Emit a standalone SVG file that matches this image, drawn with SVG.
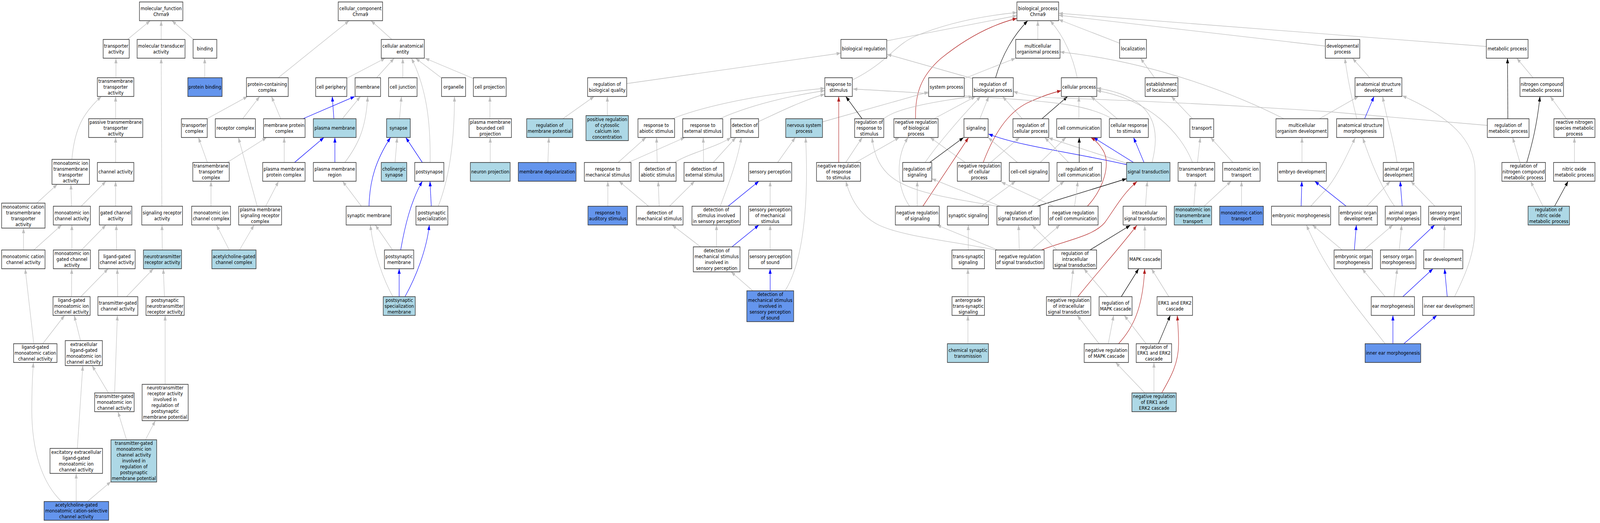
<svg xmlns="http://www.w3.org/2000/svg" width="4821" height="1339" viewBox="0 0 4821 1339">
<style>
.e{fill:none;stroke-width:1.3}
.g{stroke:#bebebe;marker-end:url(#mg)}
.b{stroke:#0000ff;marker-end:url(#mb)}
.k{stroke:#000000;marker-end:url(#mk)}
.r{stroke:#b22222;marker-end:url(#mr)}
rect.w,rect.lb,rect.db{stroke:#333333;stroke-width:1.6}
.w{fill:#ffffff}.lb{fill:#add8e6}.db{fill:#6495ed}
text{font-family:"DejaVu Sans",Verdana,sans-serif;font-size:13px;text-anchor:middle;fill:#000}
</style>
<defs>
<marker id="mg" viewBox="0 0 10 7" markerWidth="13" markerHeight="9.1" refX="10" refY="3.5" orient="auto" markerUnits="userSpaceOnUse"><path d="M0,0L10,3.5L0,7z" fill="#bebebe"/></marker>
<marker id="mb" viewBox="0 0 10 7" markerWidth="13" markerHeight="9.1" refX="10" refY="3.5" orient="auto" markerUnits="userSpaceOnUse"><path d="M0,0L10,3.5L0,7z" fill="#0000ff"/></marker>
<marker id="mk" viewBox="0 0 10 7" markerWidth="13" markerHeight="9.1" refX="10" refY="3.5" orient="auto" markerUnits="userSpaceOnUse"><path d="M0,0L10,3.5L0,7z" fill="#000000"/></marker>
<marker id="mr" viewBox="0 0 10 7" markerWidth="13" markerHeight="9.1" refX="10" refY="3.5" orient="auto" markerUnits="userSpaceOnUse"><path d="M0,0L10,3.5L0,7z" fill="#b22222"/></marker>
</defs>
<rect x="0" y="0" width="4821" height="1339" fill="#ffffff"/>
<g id="diagram" transform="scale(0.848,1)">
<g id="edges">
<path class="e g" d="M385,101L453.6,53"/>
<path class="e g" d="M486.6,101L486.6,53"/>
<path class="e g" d="M584,101L519,53"/>
<path class="e g" d="M350,199L350,149"/>
<path class="e g" d="M618,199L618,149"/>
<path class="e g" d="M349,304L349,247"/>
<path class="e g" d="M217,408C225,330 250,290 306,247"/>
<path class="e g" d="M349,416L349,352"/>
<path class="e g" d="M625,304L747.5,247"/>
<path class="e g" d="M732.5,304L784,247"/>
<path class="e g" d="M626,416L599,352"/>
<path class="e g" d="M686,416L805,352"/>
<path class="e g" d="M111,520L173,472"/>
<path class="e g" d="M216,528L214,472"/>
<path class="e g" d="M245,528L320,464"/>
<path class="e g" d="M349,528L349,464"/>
<path class="e g" d="M488.7,528L486.6,149"/>
<path class="e g" d="M637,528L637,464"/>
<path class="e g" d="M776.5,528L719.6,352"/>
<path class="e g" d="M802,528L841,464"/>
<path class="e g" d="M71,640L71,584"/>
<path class="e g" d="M217,640L217,576"/>
<path class="e g" d="M102,640L186,576"/>
<path class="e g" d="M246,640L320,576"/>
<path class="e g" d="M352,640L351,576"/>
<path class="e g" d="M490,640L489,576"/>
<path class="e g" d="M692,640L653.5,576"/>
<path class="e g" d="M723,640L767,576"/>
<path class="e g" d="M102,880L76,688"/>
<path class="e g" d="M216,759.5L216.5,688"/>
<path class="e g" d="M244,759.5L326.5,688"/>
<path class="e g" d="M355.4,759.5L354,688"/>
<path class="e g" d="M382,759.5L463,688"/>
<path class="e g" d="M496.5,759.5L493,688"/>
<path class="e g" d="M129,880L195,807.5"/>
<path class="e g" d="M243,872L224,807.5"/>
<path class="e g" d="M327.5,1006L278,936"/>
<path class="e g" d="M346,1006L354.4,807.5"/>
<path class="e g" d="M498.5,984L498.5,807.5"/>
<path class="e g" d="M233.5,1148L250,936"/>
<path class="e g" d="M382,1126L356,1054"/>
<path class="e g" d="M439,1126L469,1077"/>
<path class="e g" d="M186,1284C125,1235 96,1150 96,1050C96,1000 98,960 101,928"/>
<path class="e g" d="M230,1284L230,1212"/>
<path class="e g" d="M264,1284L335,1233"/>
<path class="e g" d="M840,199L1054,53"/>
<path class="e g" d="M1183,101L1120,53"/>
<path class="e g" d="M1048,200L1163,149"/>
<path class="e g" d="M1137,199L1190,149"/>
<path class="e g" d="M1216,199L1216,149"/>
<path class="e g" d="M1298.5,416C1300,320 1290,230 1242,149"/>
<path class="e g" d="M1332,199L1254.6,149"/>
<path class="e g" d="M1429,201L1283,149"/>
<path class="e g" d="M847.5,304L819.6,247"/>
<path class="e b" d="M914.7,304L1071,247"/>
<path class="e b" d="M1008,304L1003,247"/>
<path class="e g" d="M1033.5,304L1088,247"/>
<path class="e g" d="M1041,416C1080,372 1105,330 1110,247"/>
<path class="e g" d="M1206,304L1212,247"/>
<path class="e g" d="M1323,528C1350,470 1372,380 1372,247"/>
<path class="e g" d="M1479,304L1479,247"/>
<path class="e g" d="M858,416L858,352"/>
<path class="e b" d="M889,416L978,352"/>
<path class="e b" d="M1011,416L1011,352"/>
<path class="e g" d="M1192.6,416L1199,352"/>
<path class="e b" d="M1275,416L1225,352"/>
<path class="e g" d="M1480,416L1480,352"/>
<path class="e g" d="M1091,528L1034,464"/>
<path class="e b" d="M1114,528C1116,460 1135,410 1179,352"/>
<path class="e b" d="M1302,528L1298,464"/>
<path class="e g" d="M1185,640L1133,576"/>
<path class="e b" d="M1209.6,640C1222,580 1240,515 1275,464"/>
<path class="e g" d="M1186,759.5C1160,720 1128,650 1118,576"/>
<path class="e b" d="M1205,759.5L1205,688"/>
<path class="e b" d="M1222.6,759.5C1255,710 1288,640 1296,576"/>
<path class="e g" d="M2677,104.5L3070,40"/>
<path class="e g" d="M2573,205C2680,160 2700,115 2765,92C2850,62 2950,42 3070,32"/>
<path class="e g" d="M3133,101L3133,53"/>
<path class="e k" d="M3005.5,199C3025,140 3060,90 3102.6,53"/>
<path class="e r" d="M2764,304C2762,240 2780,195 2840,150C2920,95 3000,62 3070,47"/>
<path class="e g" d="M3252,199C3240,150 3215,95 3170,53"/>
<path class="e g" d="M3380,110.6L3196,50"/>
<path class="e g" d="M4001,118L3196,39"/>
<path class="e g" d="M4487,119L3196,34"/>
<path class="e g" d="M2936,201L2678,139"/>
<path class="e g" d="M1892,214L2538.5,136"/>
<path class="e g" d="M2911,201L3066,149"/>
<path class="e g" d="M3876,304C3750,250 3500,160 3200,133"/>
<path class="e g" d="M3485.7,199L3443,149"/>
<path class="e g" d="M4135,199L4083,149"/>
<path class="e g" d="M4096,304C4080,250 4068,200 4060,149"/>
<path class="e g" d="M4628,199L4579,149"/>
<path class="e k" d="M4552,304L4551,149"/>
<path class="e g" d="M1699,304L1793.7,247"/>
<path class="e g" d="M1833.5,296L1833.5,247"/>
<path class="e g" d="M2029,304C2100,280 2250,245 2490,226"/>
<path class="e g" d="M2172,304C2250,275 2350,250 2490,232"/>
<path class="e g" d="M2290.7,311C2350,288 2420,258 2490,241"/>
<path class="e g" d="M2483,312L2803.5,235.5"/>
<path class="e k" d="M2602.5,304L2553.4,247"/>
<path class="e r" d="M2532,416L2532,247"/>
<path class="e g" d="M2668,304C2700,280 2800,262 2937,247"/>
<path class="e g" d="M2819.5,304L2945,247"/>
<path class="e g" d="M2958,304L2985,247"/>
<path class="e g" d="M3086,304L3026.6,247"/>
<path class="e k" d="M3145.5,304L3223,247"/>
<path class="e r" d="M2968,416C3000,345 3040,290 3100,264C3140,248 3175,238 3204,232"/>
<path class="e g" d="M2914,416L2808,352"/>
<path class="e g" d="M2990.5,416L3078,352"/>
<path class="e k" d="M2806.6,416L2909,352"/>
<path class="e g" d="M2792.6,416C2830,370 2900,300 2960.5,247"/>
<path class="e g" d="M2553,416L2603,352"/>
<path class="e g" d="M2583,416L2715,352"/>
<path class="e b" d="M3401,421.5C3250,392 3080,375 2984,343"/>
<path class="e g" d="M3071.6,416L2983,352"/>
<path class="e g" d="M3140,416L3218,352"/>
<path class="e g" d="M3226,416L3154,352"/>
<path class="e g" d="M3401,418L3165,353"/>
<path class="e g" d="M3257,304L3257,247"/>
<path class="e g" d="M3373,304L3293,247"/>
<path class="e g" d="M3357.6,304C3290,272 3200,262 3060,254C2900,245 2700,233 2575,228"/>
<path class="e g" d="M4490,321L4011,286C3600,262 3300,254 3200,251C3130,249 3090,243 3059,234"/>
<path class="e g" d="M3600,304L3536,247"/>
<path class="e g" d="M3600,416C3565,340 3470,255 3311,232"/>
<path class="e g" d="M3478,416C3500,340 3500,250 3311,225.5"/>
<path class="e k" d="M3258,416L3258,352"/>
<path class="e b" d="M3422,416L3301,352"/>
<path class="e b" d="M3453.6,416L3422,352"/>
<path class="e r" d="M3282.6,528C3330,485 3355,420 3330,385C3318,368 3305,358 3293,352"/>
<path class="e g" d="M3615,416L3623.6,352"/>
<path class="e g" d="M3722,416L3654.6,352"/>
<path class="e g" d="M3930.5,416L3930.5,352"/>
<path class="e g" d="M3983,304L4101,247"/>
<path class="e g" d="M3458,528L3463.5,464"/>
<path class="e r" d="M3143.5,640C3220,615 3300,605 3335,570C3365,535 3390,495 3432.5,465"/>
<path class="e k" d="M3131,528L3401,457.5"/>
<path class="e g" d="M3115.5,528L3213,464"/>
<path class="e r" d="M3254,759.5C3310,700 3370,645 3432,577"/>
<path class="e k" d="M3290.4,640L3412,577"/>
<path class="e g" d="M3190.5,640L3115.5,576"/>
<path class="e g" d="M3456,640L3456,577"/>
<path class="e g" d="M3604,528L3609.7,464"/>
<path class="e g" d="M3635,528L3716.6,464"/>
<path class="e g" d="M3748,528L3748,464"/>
<path class="e b" d="M3928,528L3930,464"/>
<path class="e g" d="M3957,528C3980,505 4000,490 4011,477C4040,445 4065,400 4091,353"/>
<path class="e b" d="M4064,528L3969,464"/>
<path class="e g" d="M4126,528L4197,464"/>
<path class="e b" d="M4233,528L4227,464"/>
<path class="e g" d="M4332,528L4259,464"/>
<path class="e g" d="M4210,528C4170,480 4140,420 4114,353"/>
<path class="e b" d="M4119.5,304L4148,247"/>
<path class="e g" d="M4217.6,416C4205,350 4185,300 4174,247"/>
<path class="e g" d="M4391,759.5C4420,710 4453,650 4453,580L4453,440C4453,360 4380,300 4233,245"/>
<path class="e g" d="M4729,304L4680,247"/>
<path class="e g" d="M4588.6,416L4566.4,352"/>
<path class="e k" d="M4609,416C4625,370 4640,320 4649,247"/>
<path class="e g" d="M4753,416L4753,352"/>
<path class="e g" d="M4658,528L4620.6,464"/>
<path class="e k" d="M4693,528L4734,464"/>
<path class="e b" d="M4088.5,640L4094.7,576"/>
<path class="e g" d="M4117,640L4205,576"/>
<path class="e g" d="M4224,640L4231.6,576"/>
<path class="e b" d="M4251,640L4331,576"/>
<path class="e g" d="M4359,640L4361,576"/>
<path class="e g" d="M4052,640L3962,576"/>
<path class="e g" d="M4181.5,880C4080,770 4000,690 3944,576"/>
<path class="e g" d="M4181.5,759.5L4112,688"/>
<path class="e g" d="M4208,759.5L4218,688"/>
<path class="e b" d="M4235,759.5L4326,688"/>
<path class="e b" d="M4369,759.5L4361,688"/>
<path class="e b" d="M4205,880L4205,807.5"/>
<path class="e b" d="M4238,880L4337.5,807.5"/>
<path class="e g" d="M1654,416L1657,352"/>
<path class="e g" d="M1866,416L1950,352"/>
<path class="e g" d="M1897,416L2067.5,352"/>
<path class="e g" d="M1984,416L1982,352"/>
<path class="e g" d="M2036.5,416C2080,392 2160,378 2207,352"/>
<path class="e g" d="M2124,416L2123,352"/>
<path class="e g" d="M2153,416L2221.5,352"/>
<path class="e g" d="M2347.5,416L2401,352"/>
<path class="e g" d="M1835,528L1835,464"/>
<path class="e g" d="M1958,528L1868.6,464"/>
<path class="e g" d="M1990,528L1987,464"/>
<path class="e g" d="M2021,528L2097,464"/>
<path class="e g" d="M2174.5,528C2190,490 2225,420 2238,352"/>
<path class="e b" d="M2198,528L2291,464"/>
<path class="e g" d="M2325,528L2325,464"/>
<path class="e g" d="M2115,632L2029,576"/>
<path class="e g" d="M2163,632L2163,576"/>
<path class="e b" d="M2209.6,632L2291,576"/>
<path class="e g" d="M2325,640L2325,576"/>
<path class="e g" d="M2272.6,744.5L2207,696"/>
<path class="e b" d="M2325,744.5L2325,688"/>
<path class="e g" d="M2370,744.5C2425,670 2442,520 2432,352"/>
<path class="e g" d="M2769,528L2769,464"/>
<path class="e r" d="M2786,528L2924,352"/>
<path class="e g" d="M2746,528C2710,485 2700,410 2741,352"/>
<path class="e g" d="M2963,528L3066,464"/>
<path class="e g" d="M3020,528L2813,457.6"/>
<path class="e g" d="M3009.6,528C2880,508 2740,495 2680,445C2650,420 2638,390 2632.5,352"/>
<path class="e g" d="M3244,528L3254,464"/>
<path class="e g" d="M3180,528L3022.5,466"/>
<path class="e g" d="M2923,640L2923,576"/>
<path class="e g" d="M3077,640L3075,576"/>
<path class="e g" d="M3012,640L2828,576"/>
<path class="e g" d="M3113,640L3200,576"/>
<path class="e g" d="M3005.5,640C2880,618 2720,605 2650,575C2595,550 2568,510 2553.4,464"/>
<path class="e g" d="M2922,759.5L2922,688"/>
<path class="e g" d="M2922,880L2922,807.5"/>
<path class="e g" d="M3231,759.5L3240,688"/>
<path class="e g" d="M3343.6,759.5L3272,688"/>
<path class="e k" d="M3385,759.5L3437.6,688"/>
<path class="e r" d="M3376.7,880C3420,840 3450,790 3455.7,688"/>
<path class="e g" d="M3528.6,759.5L3476,688"/>
<path class="e g" d="M3318,880L3252,807.5"/>
<path class="e g" d="M3345.7,880L3362,807.5"/>
<path class="e g" d="M3460,880L3394,807.5"/>
<path class="e k" d="M3497,880L3533,807.5"/>
<path class="e g" d="M3456,1006L3368,928"/>
<path class="e g" d="M3483.6,1006L3483.6,928"/>
<path class="e r" d="M3507,1006C3535,965 3558,930 3558,880C3558,850 3556,830 3554,807.5"/>
</g>
<g id="n1"><rect class="w" x="421" y="5" width="131" height="48"/><text x="486.5" y="26"><tspan x="486.5">molecular_function</tspan><tspan x="486.5" dy="15">Chrna9</tspan></text></g>
<g id="n2"><rect class="w" x="311.5" y="101" width="78.5" height="48"/><text x="350.7" y="122"><tspan x="350.7">transporter</tspan><tspan x="350.7" dy="15">activity</tspan></text></g>
<g id="n3"><rect class="w" x="414" y="101" width="144.5" height="48"/><text x="486.2" y="122"><tspan x="486.2">molecular transducer</tspan><tspan x="486.2" dy="15">activity</tspan></text></g>
<g id="n4"><rect class="w" x="583" y="101" width="71.5" height="48"/><text x="618.7" y="129.5">binding</text></g>
<g id="n5"><rect class="w" x="294" y="199" width="110" height="48"/><text x="349" y="212.5"><tspan x="349">transmembrane</tspan><tspan x="349" dy="15">transporter</tspan><tspan x="349" dy="15">activity</tspan></text></g>
<g id="n6"><rect class="db" x="567" y="199" width="103.5" height="48"/><text x="618.7" y="227.5">protein binding</text></g>
<g id="n7"><rect class="w" x="267.6" y="304" width="163.4" height="48"/><text x="349.3" y="317.5"><tspan x="349.3">passive transmembrane</tspan><tspan x="349.3" dy="15">transporter</tspan><tspan x="349.3" dy="15">activity</tspan></text></g>
<g id="n8"><rect class="w" x="157" y="408" width="113" height="64"/><text x="213.5" y="422"><tspan x="213.5">monoatomic ion</tspan><tspan x="213.5" dy="15">transmembrane</tspan><tspan x="213.5" dy="15">transporter</tspan><tspan x="213.5" dy="15">activity</tspan></text></g>
<g id="n9"><rect class="w" x="294" y="416" width="110" height="48"/><text x="349" y="444.5">channel activity</text></g>
<g id="n10"><rect class="w" x="5" y="520" width="131" height="64"/><text x="70.5" y="534"><tspan x="70.5">monoatomic cation</tspan><tspan x="70.5" dy="15">transmembrane</tspan><tspan x="70.5" dy="15">transporter</tspan><tspan x="70.5" dy="15">activity</tspan></text></g>
<g id="n11"><rect class="w" x="161" y="528" width="112" height="48"/><text x="217" y="549"><tspan x="217">monoatomic ion</tspan><tspan x="217" dy="15">channel activity</tspan></text></g>
<g id="n12"><rect class="w" x="300" y="528" width="98" height="48"/><text x="349" y="549"><tspan x="349">gated channel</tspan><tspan x="349" dy="15">activity</tspan></text></g>
<g id="n13"><rect class="w" x="428" y="528" width="123" height="48"/><text x="489.5" y="549"><tspan x="489.5">signaling receptor</tspan><tspan x="489.5" dy="15">activity</tspan></text></g>
<g id="n14"><rect class="w" x="5" y="640" width="131" height="48"/><text x="70.5" y="661"><tspan x="70.5">monoatomic cation</tspan><tspan x="70.5" dy="15">channel activity</tspan></text></g>
<g id="n15"><rect class="w" x="161" y="640" width="112" height="48"/><text x="217" y="653.5"><tspan x="217">monoatomic ion</tspan><tspan x="217" dy="15">gated channel</tspan><tspan x="217" dy="15">activity</tspan></text></g>
<g id="n16"><rect class="w" x="298" y="640" width="110" height="48"/><text x="353" y="661"><tspan x="353">ligand-gated</tspan><tspan x="353" dy="15">channel activity</tspan></text></g>
<g id="n17"><rect class="lb" x="433" y="640" width="115" height="48"/><text x="490.5" y="661"><tspan x="490.5">neurotransmitter</tspan><tspan x="490.5" dy="15">receptor activity</tspan></text></g>
<g id="n18"><rect class="w" x="160" y="759.5" width="112" height="48"/><text x="216" y="773"><tspan x="216">ligand-gated</tspan><tspan x="216" dy="15">monoatomic ion</tspan><tspan x="216" dy="15">channel activity</tspan></text></g>
<g id="n19"><rect class="w" x="295.5" y="759.5" width="120.5" height="48"/><text x="355.7" y="780.5"><tspan x="355.7">transmitter-gated</tspan><tspan x="355.7" dy="15">channel activity</tspan></text></g>
<g id="n20"><rect class="w" x="440.7" y="759.5" width="115.3" height="48"/><text x="498.3" y="773"><tspan x="498.3">postsynaptic</tspan><tspan x="498.3" dy="15">neurotransmitter</tspan><tspan x="498.3" dy="15">receptor activity</tspan></text></g>
<g id="n21"><rect class="w" x="41" y="880" width="131" height="48"/><text x="106.5" y="893.5"><tspan x="106.5">ligand-gated</tspan><tspan x="106.5" dy="15">monoatomic cation</tspan><tspan x="106.5" dy="15">channel activity</tspan></text></g>
<g id="n22"><rect class="w" x="197" y="872" width="112" height="64"/><text x="253" y="886"><tspan x="253">extracellular</tspan><tspan x="253" dy="15">ligand-gated</tspan><tspan x="253" dy="15">monoatomic ion</tspan><tspan x="253" dy="15">channel activity</tspan></text></g>
<g id="n23"><rect class="w" x="285.7" y="1006" width="119.3" height="48"/><text x="345.3" y="1019.5"><tspan x="345.3">transmitter-gated</tspan><tspan x="345.3" dy="15">monoatomic ion</tspan><tspan x="345.3" dy="15">channel activity</tspan></text></g>
<g id="n24"><rect class="w" x="429" y="984" width="139" height="93"/><text x="498.5" y="997.5"><tspan x="498.5">neurotransmitter</tspan><tspan x="498.5" dy="15">receptor activity</tspan><tspan x="498.5" dy="15">involved in</tspan><tspan x="498.5" dy="15">regulation of</tspan><tspan x="498.5" dy="15">postsynaptic</tspan><tspan x="498.5" dy="15">membrane potential</tspan></text></g>
<g id="n25"><rect class="w" x="151" y="1148" width="158.5" height="64"/><text x="230.2" y="1162"><tspan x="230.2">excitatory extracellular</tspan><tspan x="230.2" dy="15">ligand-gated</tspan><tspan x="230.2" dy="15">monoatomic ion</tspan><tspan x="230.2" dy="15">channel activity</tspan></text></g>
<g id="n26"><rect class="lb" x="335" y="1126" width="138" height="108"/><text x="404" y="1139.5"><tspan x="404">transmitter-gated</tspan><tspan x="404" dy="15">monoatomic ion</tspan><tspan x="404" dy="15">channel activity</tspan><tspan x="404" dy="15">involved in</tspan><tspan x="404" dy="15">regulation of</tspan><tspan x="404" dy="15">postsynaptic</tspan><tspan x="404" dy="15">membrane potential</tspan></text></g>
<g id="n27"><rect class="db" x="133" y="1284" width="195" height="48"/><text x="230.5" y="1297.5"><tspan x="230.5">acetylcholine-gated</tspan><tspan x="230.5" dy="15">monoatomic cation-selective</tspan><tspan x="230.5" dy="15">channel activity</tspan></text></g>
<g id="c1"><rect class="w" x="1021" y="5" width="134" height="48"/><text x="1088" y="26"><tspan x="1088">cellular_component</tspan><tspan x="1088" dy="15">Chrna9</tspan></text></g>
<g id="c2"><rect class="w" x="1151" y="101" width="130" height="48"/><text x="1216" y="122"><tspan x="1216">cellular anatomical</tspan><tspan x="1216" dy="15">entity</tspan></text></g>
<g id="c3"><rect class="w" x="744" y="199" width="126" height="48"/><text x="807" y="220"><tspan x="807">protein-containing</tspan><tspan x="807" dy="15">complex</tspan></text></g>
<g id="c4"><rect class="w" x="953" y="199" width="94" height="48"/><text x="1000" y="227.5">cell periphery</text></g>
<g id="c5"><rect class="w" x="1072" y="199" width="77" height="48"/><text x="1110.5" y="227.5">membrane</text></g>
<g id="c6"><rect class="w" x="1173" y="199" width="86" height="48"/><text x="1216" y="227.5">cell junction</text></g>
<g id="c7"><rect class="w" x="1333" y="199" width="72.5" height="48"/><text x="1369.2" y="227.5">organelle</text></g>
<g id="c8"><rect class="w" x="1429" y="199" width="99" height="48"/><text x="1478.5" y="227.5">cell projection</text></g>
<g id="c9"><rect class="w" x="547.6" y="304" width="78" height="48"/><text x="586.6" y="325"><tspan x="586.6">transporter</tspan><tspan x="586.6" dy="15">complex</tspan></text></g>
<g id="c10"><rect class="w" x="650" y="304" width="121" height="48"/><text x="710.5" y="332.5">receptor complex</text></g>
<g id="c11"><rect class="w" x="795.5" y="304" width="125.5" height="48"/><text x="858.2" y="325"><tspan x="858.2">membrane protein</tspan><tspan x="858.2" dy="15">complex</tspan></text></g>
<g id="c12"><rect class="lb" x="946" y="304" width="129" height="48"/><text x="1010.5" y="332.5">plasma membrane</text></g>
<g id="c13"><rect class="lb" x="1167" y="304" width="71.6" height="48"/><text x="1202.8" y="332.5">synapse</text></g>
<g id="c14"><rect class="w" x="1416" y="304" width="128" height="48"/><text x="1480" y="317.5"><tspan x="1480">plasma membrane</tspan><tspan x="1480" dy="15">bounded cell</tspan><tspan x="1480" dy="15">projection</tspan></text></g>
<g id="c15"><rect class="w" x="582" y="416" width="110" height="48"/><text x="637" y="429.5"><tspan x="637">transmembrane</tspan><tspan x="637" dy="15">transporter</tspan><tspan x="637" dy="15">complex</tspan></text></g>
<g id="c16"><rect class="w" x="793" y="416" width="128" height="48"/><text x="857" y="437"><tspan x="857">plasma membrane</tspan><tspan x="857" dy="15">protein complex</tspan></text></g>
<g id="c17"><rect class="w" x="946" y="416" width="129" height="48"/><text x="1010.5" y="437"><tspan x="1010.5">plasma membrane</tspan><tspan x="1010.5" dy="15">region</tspan></text></g>
<g id="c18"><rect class="lb" x="1151" y="416" width="77" height="48"/><text x="1189.5" y="437"><tspan x="1189.5">cholinergic</tspan><tspan x="1189.5" dy="15">synapse</tspan></text></g>
<g id="c19"><rect class="w" x="1252" y="416" width="88" height="48"/><text x="1296" y="444.5">postsynapse</text></g>
<g id="c20"><rect class="lb" x="1420" y="416" width="120" height="48"/><text x="1480" y="444.5">neuron projection</text></g>
<g id="c21"><rect class="w" x="578.6" y="528" width="117.4" height="48"/><text x="637.3" y="549"><tspan x="637.3">monoatomic ion</tspan><tspan x="637.3" dy="15">channel complex</tspan></text></g>
<g id="c22"><rect class="w" x="720.6" y="528" width="129.4" height="48"/><text x="785.3" y="541.5"><tspan x="785.3">plasma membrane</tspan><tspan x="785.3" dy="15">signaling receptor</tspan><tspan x="785.3" dy="15">complex</tspan></text></g>
<g id="c23"><rect class="w" x="1045" y="528" width="136" height="48"/><text x="1113" y="556.5">synaptic membrane</text></g>
<g id="c24"><rect class="w" x="1255.6" y="528" width="96.4" height="48"/><text x="1303.8" y="549"><tspan x="1303.8">postsynaptic</tspan><tspan x="1303.8" dy="15">specialization</tspan></text></g>
<g id="c25"><rect class="lb" x="639.6" y="640" width="133.4" height="48"/><text x="706.3" y="661"><tspan x="706.3">acetylcholine-gated</tspan><tspan x="706.3" dy="15">channel complex</tspan></text></g>
<g id="c26"><rect class="w" x="1160.6" y="640" width="88.4" height="48"/><text x="1204.8" y="661"><tspan x="1204.8">postsynaptic</tspan><tspan x="1204.8" dy="15">membrane</tspan></text></g>
<g id="c27"><rect class="lb" x="1157" y="759.5" width="96.6" height="48"/><text x="1205.3" y="773"><tspan x="1205.3">postsynaptic</tspan><tspan x="1205.3" dy="15">specialization</tspan><tspan x="1205.3" dy="15">membrane</tspan></text></g>
<g id="b1"><rect class="w" x="3070" y="5" width="126" height="48"/><text x="3133" y="26"><tspan x="3133">biological_process</tspan><tspan x="3133" dy="15">Chrna9</tspan></text></g>
<g id="b2"><rect class="w" x="2538.5" y="101" width="138.5" height="48"/><text x="2607.7" y="129.5">biological regulation</text></g>
<g id="b3"><rect class="w" x="3066.4" y="101" width="133.6" height="48"/><text x="3133.2" y="122"><tspan x="3133.2">multicellular</tspan><tspan x="3133.2" dy="15">organismal process</tspan></text></g>
<g id="b4"><rect class="w" x="3380" y="101" width="81" height="48"/><text x="3420.5" y="129.5">localization</text></g>
<g id="b5"><rect class="w" x="4001" y="101" width="104" height="48"/><text x="4053" y="122"><tspan x="4053">developmental</tspan><tspan x="4053" dy="15">process</tspan></text></g>
<g id="b6"><rect class="w" x="4487" y="101" width="126" height="48"/><text x="4550" y="129.5">metabolic process</text></g>
<g id="b7"><rect class="w" x="1774" y="199" width="118" height="48"/><text x="1833" y="220"><tspan x="1833">regulation of</tspan><tspan x="1833" dy="15">biological quality</tspan></text></g>
<g id="b8"><rect class="w" x="2490" y="199" width="83" height="48"/><text x="2531.5" y="220"><tspan x="2531.5">response to</tspan><tspan x="2531.5" dy="15">stimulus</tspan></text></g>
<g id="b9"><rect class="w" x="2803.5" y="199" width="107.5" height="48"/><text x="2857.2" y="227.5">system process</text></g>
<g id="b10"><rect class="w" x="2936" y="199" width="123" height="48"/><text x="2997.5" y="220"><tspan x="2997.5">regulation of</tspan><tspan x="2997.5" dy="15">biological process</tspan></text></g>
<g id="b11"><rect class="w" x="3204" y="199" width="107" height="48"/><text x="3257.5" y="227.5">cellular process</text></g>
<g id="b12"><rect class="w" x="3457" y="199" width="99" height="48"/><text x="3506.5" y="220"><tspan x="3506.5">establishment</tspan><tspan x="3506.5" dy="15">of localization</tspan></text></g>
<g id="b13"><rect class="w" x="4090.6" y="199" width="141.4" height="48"/><text x="4161.3" y="220"><tspan x="4161.3">anatomical structure</tspan><tspan x="4161.3" dy="15">development</tspan></text></g>
<g id="b14"><rect class="w" x="4588.6" y="199" width="131.4" height="48"/><text x="4654.3" y="220"><tspan x="4654.3">nitrogen compound</tspan><tspan x="4654.3" dy="15">metabolic process</tspan></text></g>
<g id="b15"><rect class="lb" x="1590" y="304" width="139" height="48"/><text x="1659.5" y="325"><tspan x="1659.5">regulation of</tspan><tspan x="1659.5" dy="15">membrane potential</tspan></text></g>
<g id="b16"><rect class="lb" x="1769" y="296" width="128" height="64"/><text x="1833" y="310"><tspan x="1833">positive regulation</tspan><tspan x="1833" dy="15">of cytosolic</tspan><tspan x="1833" dy="15">calcium ion</tspan><tspan x="1833" dy="15">concentration</tspan></text></g>
<g id="b17"><rect class="w" x="1926" y="304" width="110.5" height="48"/><text x="1981.2" y="325"><tspan x="1981.2">response to</tspan><tspan x="1981.2" dy="15">abiotic stimulus</tspan></text></g>
<g id="b18"><rect class="w" x="2061" y="304" width="121" height="48"/><text x="2121.5" y="325"><tspan x="2121.5">response to</tspan><tspan x="2121.5" dy="15">external stimulus</tspan></text></g>
<g id="b19"><rect class="w" x="2206" y="304" width="84" height="48"/><text x="2248" y="325"><tspan x="2248">detection of</tspan><tspan x="2248" dy="15">stimulus</tspan></text></g>
<g id="b20"><rect class="lb" x="2372" y="304" width="111" height="48"/><text x="2427.5" y="325"><tspan x="2427.5">nervous system</tspan><tspan x="2427.5" dy="15">process</tspan></text></g>
<g id="b21"><rect class="w" x="2580" y="304" width="88" height="48"/><text x="2624" y="317.5"><tspan x="2624">regulation of</tspan><tspan x="2624" dy="15">response to</tspan><tspan x="2624" dy="15">stimulus</tspan></text></g>
<g id="b22"><rect class="w" x="2698.6" y="304" width="133.4" height="48"/><text x="2765.3" y="317.5"><tspan x="2765.3">negative regulation</tspan><tspan x="2765.3" dy="15">of biological</tspan><tspan x="2765.3" dy="15">process</tspan></text></g>
<g id="b23"><rect class="w" x="2910" y="304" width="73" height="48"/><text x="2946.5" y="332.5">signaling</text></g>
<g id="b24"><rect class="w" x="3058" y="304" width="108" height="48"/><text x="3112" y="325"><tspan x="3112">regulation of</tspan><tspan x="3112" dy="15">cellular process</tspan></text></g>
<g id="b25"><rect class="w" x="3190" y="304" width="134" height="48"/><text x="3257" y="332.5">cell communication</text></g>
<g id="b26"><rect class="w" x="3349" y="304" width="117.6" height="48"/><text x="3407.8" y="325"><tspan x="3407.8">cellular response</tspan><tspan x="3407.8" dy="15">to stimulus</tspan></text></g>
<g id="b27"><rect class="w" x="3592" y="304" width="72" height="48"/><text x="3628" y="332.5">transport</text></g>
<g id="b28"><rect class="w" x="3852" y="304" width="156.5" height="48"/><text x="3930.2" y="325"><tspan x="3930.2">multicellular</tspan><tspan x="3930.2" dy="15">organism development</tspan></text></g>
<g id="b29"><rect class="w" x="4035" y="304" width="142" height="48"/><text x="4106" y="325"><tspan x="4106">anatomical structure</tspan><tspan x="4106" dy="15">morphogenesis</tspan></text></g>
<g id="b30"><rect class="w" x="4490" y="304" width="126" height="48"/><text x="4553" y="325"><tspan x="4553">regulation of</tspan><tspan x="4553" dy="15">metabolic process</tspan></text></g>
<g id="b31"><rect class="w" x="4691" y="304" width="124" height="48"/><text x="4753" y="317.5"><tspan x="4753">reactive nitrogen</tspan><tspan x="4753" dy="15">species metabolic</tspan><tspan x="4753" dy="15">process</tspan></text></g>
<g id="b32"><rect class="db" x="1564.6" y="416" width="174.4" height="48"/><text x="1651.8" y="444.5">membrane depolarization</text></g>
<g id="b33"><rect class="w" x="1764" y="416" width="141" height="48"/><text x="1834.5" y="437"><tspan x="1834.5">response to</tspan><tspan x="1834.5" dy="15">mechanical stimulus</tspan></text></g>
<g id="b34"><rect class="w" x="1930" y="416" width="111" height="48"/><text x="1985.5" y="437"><tspan x="1985.5">detection of</tspan><tspan x="1985.5" dy="15">abiotic stimulus</tspan></text></g>
<g id="b35"><rect class="w" x="2065" y="416" width="120" height="48"/><text x="2125" y="437"><tspan x="2125">detection of</tspan><tspan x="2125" dy="15">external stimulus</tspan></text></g>
<g id="b36"><rect class="w" x="2260" y="416" width="130" height="48"/><text x="2325" y="444.5">sensory perception</text></g>
<g id="b37"><rect class="w" x="2465" y="416" width="133" height="48"/><text x="2531.5" y="429.5"><tspan x="2531.5">negative regulation</tspan><tspan x="2531.5" dy="15">of response</tspan><tspan x="2531.5" dy="15">to stimulus</tspan></text></g>
<g id="b38"><rect class="w" x="2725" y="416" width="88" height="48"/><text x="2769" y="437"><tspan x="2769">regulation of</tspan><tspan x="2769" dy="15">signaling</tspan></text></g>
<g id="b39"><rect class="w" x="2890" y="416" width="132.5" height="48"/><text x="2956.2" y="429.5"><tspan x="2956.2">negative regulation</tspan><tspan x="2956.2" dy="15">of cellular</tspan><tspan x="2956.2" dy="15">process</tspan></text></g>
<g id="b40"><rect class="w" x="3047" y="416" width="120" height="48"/><text x="3107" y="444.5">cell-cell signaling</text></g>
<g id="b41"><rect class="w" x="3191" y="416" width="134" height="48"/><text x="3258" y="437"><tspan x="3258">regulation of</tspan><tspan x="3258" dy="15">cell communication</tspan></text></g>
<g id="b42"><rect class="lb" x="3401" y="416" width="131" height="48"/><text x="3466.5" y="444.5">signal transduction</text></g>
<g id="b43"><rect class="w" x="3556.5" y="416" width="110.5" height="48"/><text x="3611.7" y="437"><tspan x="3611.7">transmembrane</tspan><tspan x="3611.7" dy="15">transport</tspan></text></g>
<g id="b44"><rect class="w" x="3691" y="416" width="113" height="48"/><text x="3747.5" y="437"><tspan x="3747.5">monoatomic ion</tspan><tspan x="3747.5" dy="15">transport</tspan></text></g>
<g id="b45"><rect class="w" x="3857" y="416" width="147" height="48"/><text x="3930.5" y="444.5">embryo development</text></g>
<g id="b46"><rect class="w" x="4176" y="416" width="92" height="48"/><text x="4222" y="437"><tspan x="4222">animal organ</tspan><tspan x="4222" dy="15">development</tspan></text></g>
<g id="b47"><rect class="w" x="4534" y="416" width="131.5" height="48"/><text x="4599.7" y="429.5"><tspan x="4599.7">regulation of</tspan><tspan x="4599.7" dy="15">nitrogen compound</tspan><tspan x="4599.7" dy="15">metabolic process</tspan></text></g>
<g id="b48"><rect class="w" x="4690" y="416" width="125" height="48"/><text x="4752.5" y="437"><tspan x="4752.5">nitric oxide</tspan><tspan x="4752.5" dy="15">metabolic process</tspan></text></g>
<g id="b49"><rect class="db" x="1775" y="528" width="119.5" height="48"/><text x="1834.7" y="549"><tspan x="1834.7">response to</tspan><tspan x="1834.7" dy="15">auditory stimulus</tspan></text></g>
<g id="b50"><rect class="w" x="1921" y="528" width="141" height="48"/><text x="1991.5" y="549"><tspan x="1991.5">detection of</tspan><tspan x="1991.5" dy="15">mechanical stimulus</tspan></text></g>
<g id="b51"><rect class="w" x="2089" y="528" width="146" height="48"/><text x="2162" y="541.5"><tspan x="2162">detection of</tspan><tspan x="2162" dy="15">stimulus involved</tspan><tspan x="2162" dy="15">in sensory perception</tspan></text></g>
<g id="b52"><rect class="w" x="2260" y="528" width="130" height="48"/><text x="2325" y="541.5"><tspan x="2325">sensory perception</tspan><tspan x="2325" dy="15">of mechanical</tspan><tspan x="2325" dy="15">stimulus</tspan></text></g>
<g id="b53"><rect class="w" x="2703" y="528" width="132.5" height="48"/><text x="2769.2" y="549"><tspan x="2769.2">negative regulation</tspan><tspan x="2769.2" dy="15">of signaling</tspan></text></g>
<g id="b54"><rect class="w" x="2860" y="528" width="124" height="48"/><text x="2922" y="556.5">synaptic signaling</text></g>
<g id="b55"><rect class="w" x="3009.6" y="528" width="130.4" height="48"/><text x="3074.8" y="549"><tspan x="3074.8">regulation of</tspan><tspan x="3074.8" dy="15">signal transduction</tspan></text></g>
<g id="b56"><rect class="w" x="3165" y="528" width="150" height="48"/><text x="3240" y="549"><tspan x="3240">negative regulation</tspan><tspan x="3240" dy="15">of cell communication</tspan></text></g>
<g id="b57"><rect class="w" x="3390.6" y="528" width="130.4" height="48"/><text x="3455.8" y="549"><tspan x="3455.8">intracellular</tspan><tspan x="3455.8" dy="15">signal transduction</tspan></text></g>
<g id="b58"><rect class="lb" x="3545" y="528" width="112.7" height="48"/><text x="3601.3" y="541.5"><tspan x="3601.3">monoatomic ion</tspan><tspan x="3601.3" dy="15">transmembrane</tspan><tspan x="3601.3" dy="15">transport</tspan></text></g>
<g id="b59"><rect class="db" x="3682" y="528" width="132" height="48"/><text x="3748" y="549"><tspan x="3748">monoatomic cation</tspan><tspan x="3748" dy="15">transport</tspan></text></g>
<g id="b60"><rect class="w" x="3838.5" y="528" width="178.5" height="48"/><text x="3927.7" y="556.5">embryonic morphogenesis</text></g>
<g id="b61"><rect class="w" x="4042" y="528" width="116" height="48"/><text x="4100" y="549"><tspan x="4100">embryonic organ</tspan><tspan x="4100" dy="15">development</tspan></text></g>
<g id="b62"><rect class="w" x="4182" y="528" width="107" height="48"/><text x="4235.5" y="549"><tspan x="4235.5">animal organ</tspan><tspan x="4235.5" dy="15">morphogenesis</tspan></text></g>
<g id="b63"><rect class="w" x="4313" y="528" width="99" height="48"/><text x="4362.5" y="549"><tspan x="4362.5">sensory organ</tspan><tspan x="4362.5" dy="15">development</tspan></text></g>
<g id="b64"><rect class="lb" x="4613" y="528" width="125" height="48"/><text x="4675.5" y="541.5"><tspan x="4675.5">regulation of</tspan><tspan x="4675.5" dy="15">nitric oxide</tspan><tspan x="4675.5" dy="15">metabolic process</tspan></text></g>
<g id="b65"><rect class="w" x="2093" y="632" width="141" height="64"/><text x="2163.5" y="646"><tspan x="2163.5">detection of</tspan><tspan x="2163.5" dy="15">mechanical stimulus</tspan><tspan x="2163.5" dy="15">involved in</tspan><tspan x="2163.5" dy="15">sensory perception</tspan></text></g>
<g id="b66"><rect class="w" x="2260" y="640" width="130" height="48"/><text x="2325" y="661"><tspan x="2325">sensory perception</tspan><tspan x="2325" dy="15">of sound</tspan></text></g>
<g id="b67"><rect class="w" x="2873.7" y="640" width="98.3" height="48"/><text x="2922.8" y="661"><tspan x="2922.8">trans-synaptic</tspan><tspan x="2922.8" dy="15">signaling</tspan></text></g>
<g id="b68"><rect class="w" x="3005.5" y="640" width="146.5" height="48"/><text x="3078.7" y="661"><tspan x="3078.7">negative regulation</tspan><tspan x="3078.7" dy="15">of signal transduction</tspan></text></g>
<g id="b69"><rect class="w" x="3179.5" y="640" width="131" height="48"/><text x="3245" y="653.5"><tspan x="3245">regulation of</tspan><tspan x="3245" dy="15">intracellular</tspan><tspan x="3245" dy="15">signal transduction</tspan></text></g>
<g id="b70"><rect class="w" x="3406" y="640" width="100" height="48"/><text x="3456" y="668.5">MAPK cascade</text></g>
<g id="b71"><rect class="w" x="4027.5" y="640" width="115.5" height="48"/><text x="4085.2" y="661"><tspan x="4085.2">embryonic organ</tspan><tspan x="4085.2" dy="15">morphogenesis</tspan></text></g>
<g id="b72"><rect class="w" x="4167.5" y="640" width="107" height="48"/><text x="4221" y="661"><tspan x="4221">sensory organ</tspan><tspan x="4221" dy="15">morphogenesis</tspan></text></g>
<g id="b73"><rect class="w" x="4298" y="640" width="118" height="48"/><text x="4357" y="668.5">ear development</text></g>
<g id="b74"><rect class="db" x="2254.5" y="744.5" width="141.5" height="79"/><text x="2325.2" y="758.5"><tspan x="2325.2">detection of</tspan><tspan x="2325.2" dy="15">mechanical stimulus</tspan><tspan x="2325.2" dy="15">involved in</tspan><tspan x="2325.2" dy="15">sensory perception</tspan><tspan x="2325.2" dy="15">of sound</tspan></text></g>
<g id="b75"><rect class="w" x="2874" y="759.5" width="98" height="48"/><text x="2923" y="773"><tspan x="2923">anterograde</tspan><tspan x="2923" dy="15">trans-synaptic</tspan><tspan x="2923" dy="15">signaling</tspan></text></g>
<g id="b76"><rect class="w" x="3159" y="759.5" width="134" height="48"/><text x="3226" y="773"><tspan x="3226">negative regulation</tspan><tspan x="3226" dy="15">of intracellular</tspan><tspan x="3226" dy="15">signal transduction</tspan></text></g>
<g id="b77"><rect class="w" x="3318" y="759.5" width="99.5" height="48"/><text x="3367.7" y="780.5"><tspan x="3367.7">regulation of</tspan><tspan x="3367.7" dy="15">MAPK cascade</tspan></text></g>
<g id="b78"><rect class="w" x="3493" y="759.5" width="107" height="48"/><text x="3546.5" y="780.5"><tspan x="3546.5">ERK1 and ERK2</tspan><tspan x="3546.5" dy="15">cascade</tspan></text></g>
<g id="b79"><rect class="w" x="4139.6" y="759.5" width="130.4" height="48"/><text x="4204.8" y="788">ear morphogenesis</text></g>
<g id="b80"><rect class="w" x="4294.6" y="759.5" width="155.4" height="48"/><text x="4372.3" y="788">inner ear development</text></g>
<g id="b81"><rect class="lb" x="2860" y="880" width="124" height="48"/><text x="2922" y="901"><tspan x="2922">chemical synaptic</tspan><tspan x="2922" dy="15">transmission</tspan></text></g>
<g id="b82"><rect class="w" x="3273" y="880" width="133.6" height="48"/><text x="3339.8" y="901"><tspan x="3339.8">negative regulation</tspan><tspan x="3339.8" dy="15">of MAPK cascade</tspan></text></g>
<g id="b83"><rect class="w" x="3430" y="880" width="107" height="48"/><text x="3483.5" y="893.5"><tspan x="3483.5">regulation of</tspan><tspan x="3483.5" dy="15">ERK1 and ERK2</tspan><tspan x="3483.5" dy="15">cascade</tspan></text></g>
<g id="b84"><rect class="db" x="4121" y="880" width="168" height="48"/><text x="4205" y="908.5">inner ear morphogenesis</text></g>
<g id="b85"><rect class="lb" x="3417" y="1006" width="134" height="48"/><text x="3484" y="1019.5"><tspan x="3484">negative regulation</tspan><tspan x="3484" dy="15">of ERK1 and</tspan><tspan x="3484" dy="15">ERK2 cascade</tspan></text></g>
</g>
</svg>
